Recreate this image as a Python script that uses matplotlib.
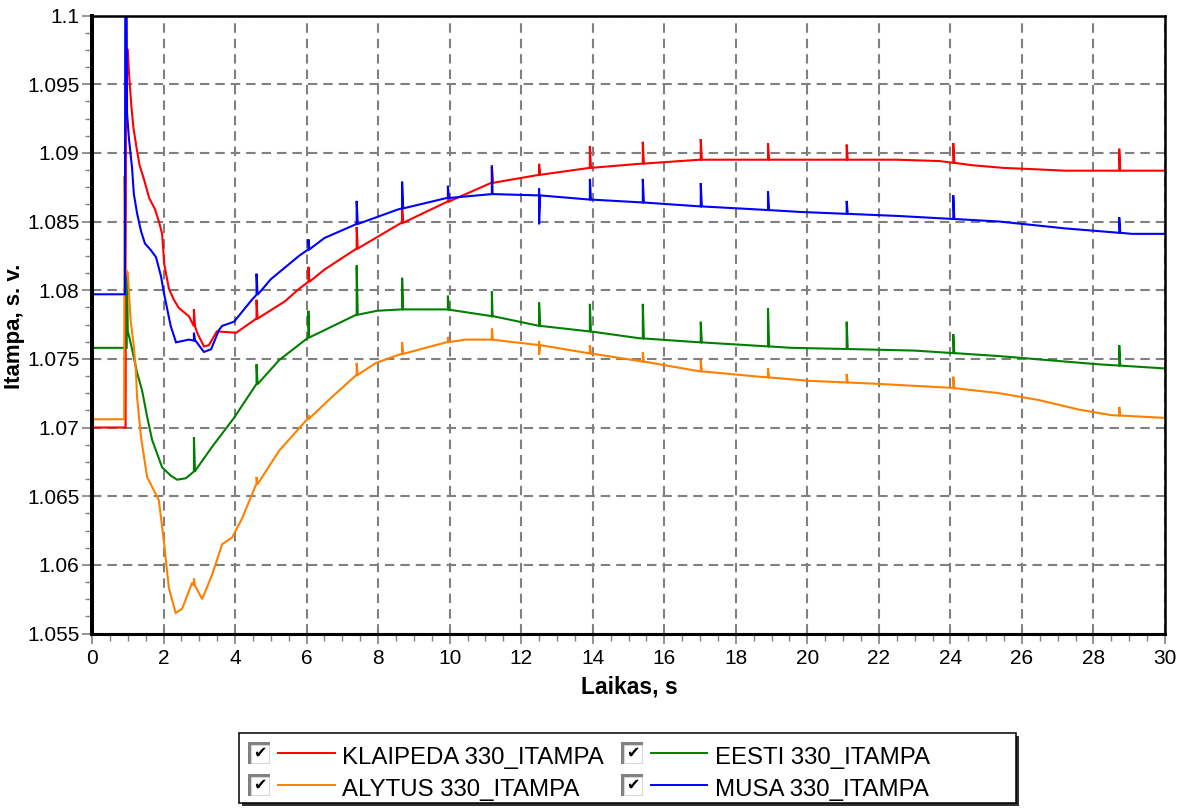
import numpy as np
import matplotlib
matplotlib.use('Agg')
import matplotlib.pyplot as plt
from matplotlib.patches import Rectangle
from matplotlib.lines import Line2D
from matplotlib.ticker import MultipleLocator, FuncFormatter

plt.rcParams['font.family'] = ['Liberation Sans', 'DejaVu Sans']
plt.rcParams['lines.scale_dashes'] = False

# ---------------- data ----------------
series_names = ["KLAIPEDA 330_ITAMPA", "EESTI 330_ITAMPA",
                "ALYTUS 330_ITAMPA", "MUSA 330_ITAMPA"]

red_t = [0, 0.94, 0.95, 1.0, 1.04, 1.1, 1.16, 1.25, 1.33, 1.45, 1.6, 1.76, 1.87, 1.96,
         2.02, 2.15, 2.29, 2.43, 2.71, 2.94, 3.13, 3.27, 3.49, 4.03, 4.58, 5.4, 5.79,
         6.5, 7.38, 8.58, 9.9, 11.15, 12.5, 13.9, 15.3, 17.0, 22.5, 23.7, 24.6, 25.5,
         26.4, 27.2, 30]
red_v = [1.0700, 1.0700, 1.0975, 1.0975, 1.0956, 1.0934, 1.0918, 1.0903, 1.0891, 1.0881,
         1.0867, 1.0859, 1.0850, 1.0841, 1.0819, 1.0801, 1.0793, 1.0787, 1.0781, 1.0769,
         1.0759, 1.0760, 1.0770, 1.0769, 1.0779, 1.0792, 1.0801, 1.0815, 1.0830, 1.0848,
         1.0864, 1.0878, 1.0884, 1.0889, 1.0892, 1.0895, 1.0895, 1.0894, 1.0891, 1.0889,
         1.0888, 1.0887, 1.0887]

green_t = [0, 0.97, 0.98, 1.0, 1.05, 1.12, 1.26, 1.4, 1.54, 1.68, 1.96, 2.2, 2.38, 2.62,
           2.9, 3.36, 3.97, 4.58, 5.23, 6.07, 7.38, 7.97, 8.67, 9.9, 11.2, 12.5, 13.9,
           15.3, 17.0, 19.57, 21.4, 23.0, 25.36, 26.75, 28.15, 30]
green_v = [1.0758, 1.0758, 1.0810, 1.0770, 1.0765, 1.0757, 1.0740, 1.0727, 1.0708, 1.0691,
           1.0671, 1.0665, 1.0662, 1.0663, 1.0669, 1.0686, 1.0707, 1.0731, 1.0749, 1.0766,
           1.0782, 1.0785, 1.0786, 1.0786, 1.0781, 1.0774, 1.0770, 1.0765, 1.0762, 1.0758,
           1.0757, 1.0756, 1.0752, 1.0749, 1.0746, 1.0743]

orange_t = [0, 0.9, 0.91, 0.95, 1.0, 1.08, 1.17, 1.23, 1.26, 1.37, 1.54, 1.87, 2.01, 2.15,
            2.34, 2.52, 2.8, 3.08, 3.36, 3.64, 3.92, 4.2, 4.58, 5.23, 5.98, 6.7, 7.38,
            7.94, 8.58, 9.9, 10.45, 11.15, 12.5, 13.9, 15.4, 16.97, 18.65, 20.04, 21.8,
            23.96, 25.36, 26.47, 27.6, 28.5, 30]
orange_v = [1.0706, 1.0706, 1.0883, 1.0815, 1.0813, 1.0778, 1.0759, 1.0740, 1.0722, 1.0693,
            1.0664, 1.0647, 1.0617, 1.0583, 1.0565, 1.0568, 1.0587, 1.0575, 1.0593, 1.0615,
            1.0620, 1.0634, 1.0658, 1.0683, 1.0705, 1.0722, 1.0738, 1.0747, 1.0753, 1.0762,
            1.0764, 1.0764, 1.0760, 1.0754, 1.0748, 1.0741, 1.0737, 1.0734, 1.0732, 1.0729,
            1.0725, 1.0720, 1.0713, 1.0709, 1.0707]

blue_t = [0, 0.92, 0.93, 0.97, 0.98, 1.03, 1.12, 1.17, 1.26, 1.37, 1.48, 1.65, 1.79, 1.88,
          1.93, 2.01, 2.2, 2.35, 2.71, 2.9, 3.13, 3.33, 3.55, 3.64, 3.97, 4.47, 5.0, 5.79,
          6.5, 7.38, 8.58, 9.9, 11.2, 12.5, 13.9, 15.3, 17.0, 18.45, 19.77, 22.56, 25.36,
          27.2, 29.08, 30]
blue_v = [1.0797, 1.0797, 1.1000, 1.1000, 1.0929, 1.0911, 1.0889, 1.0870, 1.0856, 1.0843,
          1.0834, 1.0829, 1.0824, 1.0815, 1.0810, 1.0798, 1.0774, 1.0762, 1.0764, 1.0763,
          1.0755, 1.0757, 1.0771, 1.0774, 1.0777, 1.0793, 1.0808, 1.0825, 1.0838, 1.0848,
          1.0859, 1.0867, 1.0870, 1.0869, 1.0866, 1.0864, 1.0861, 1.0859, 1.0857, 1.0854,
          1.0850, 1.0845, 1.0841, 1.0841]

# switching transients (spikes)
spike_t = [2.85, 4.6, 6.05, 7.4, 8.67, 9.95, 11.18, 12.5, 13.92, 15.4, 17.02, 18.9,
           21.1, 24.08, 28.72]
red_peak = [1.0786, 1.0793, 1.0817, 1.0846, 1.0861, 1.0866, 1.0891, 1.0892, 1.0905,
            1.0908, 1.0910, 1.0907, 1.0906, 1.0907, 1.0903]
green_peak = [1.0693, 1.0746, 1.0785, 1.0818, 1.0809, 1.0796, 1.0799, 1.0791, 1.0790,
              1.0790, 1.0777, 1.0787, 1.0777, 1.0768, 1.0760]
orange_peak = [1.0590, 1.0664, 1.0709, 1.0747, 1.0762, 1.0766, 1.0772, 1.0763, 1.0760,
               1.0755, 1.0749, 1.0743, 1.0739, 1.0737, 1.0715]
blue_peak = [1.0769, 1.0812, 1.0837, 1.0865, 1.0879, 1.0876, 1.0890, 1.0874, 1.0881,
             1.0881, 1.0878, 1.0872, 1.0865, 1.0869, 1.0853]
blue_dip = [None, None, None, None, None, None, None, 1.0848, None, None, None, None,
            None, None, None]
orange_dip = [None, None, None, None, None, None, None, 1.0753, None, None, None, None,
              None, None, None]
green_dip = [None] * 15
red_dip = [None] * 15

colors = ["#ff0000", "#008000", "#ff8000", "#0000ff"]

# ---------------- helpers ----------------
def build(t, v, peaks, dips):
    t = np.asarray(t, float)
    v = np.asarray(v, float)
    pts = list(zip(t, v))
    for ts, pk, dp in zip(spike_t, peaks, dips):
        b = float(np.interp(ts, t, v))
        seq = [(ts, b), (ts + 1e-4, pk)]
        if dp is not None:
            seq.append((ts + 2e-4, dp))
        seq.append((ts + 0.03, b))
        pts += seq
    pts.sort(key=lambda p: p[0])
    arr = np.array(pts)
    return arr[:, 0], arr[:, 1]


W, H = 1191, 808
fig = plt.figure(figsize=(W / 100, H / 100), dpi=100)
fig.patch.set_facecolor('white')

L, R, T, B = 92, 1165, 15.5, 633.5
ax = fig.add_axes([L / W, 1 - B / H, (R - L) / W, (B - T) / H])

data = [(red_t, red_v, red_peak, red_dip),
        (green_t, green_v, green_peak, green_dip),
        (orange_t, orange_v, orange_peak, orange_dip),
        (blue_t, blue_v, blue_peak, blue_dip)]
for i in range(4):
    tt, vv = build(*data[i])
    ax.plot(tt, vv, color=colors[i], lw=1.5, zorder=3, solid_joinstyle='miter')

ax.set_xlim(0, 30)
ax.set_ylim(1.055, 1.1)
ax.xaxis.set_major_locator(MultipleLocator(2))
ax.xaxis.set_minor_locator(MultipleLocator(0.5))
ax.yaxis.set_major_locator(MultipleLocator(0.005))
ax.yaxis.set_minor_locator(MultipleLocator(0.00125))
ax.yaxis.set_major_formatter(FuncFormatter(lambda v, p: f"{v:.3f}".rstrip('0').rstrip('.')))
ax.xaxis.set_major_formatter(FuncFormatter(lambda v, p: f"{v:.0f}"))

ax.grid(True, which='major', color='#808080', linestyle=(0, (6.8, 4.3)), linewidth=1.5, zorder=1)
ax.set_axisbelow(True)

ax.tick_params(axis='x', which='major', direction='inout', length=14, width=1.2,
               color='#808080', labelsize=15, pad=4)
ax.tick_params(axis='x', which='minor', direction='out', length=5, width=1.0, color='#808080')
ax.tick_params(axis='y', which='major', direction='out', length=7, width=1.2,
               color='#808080', labelsize=15, pad=2)
ax.tick_params(axis='y', which='minor', direction='out', length=5, width=1.0, color='#808080')

ax.spines['left'].set_linewidth(2.9)
ax.spines['bottom'].set_linewidth(2.2)
ax.spines['top'].set_linewidth(1.8)
ax.spines['right'].set_linewidth(1.8)
for s in ax.spines.values():
    s.set_color('black')
    s.set_zorder(5)


def px(x, y):
    return x / W, 1 - y / H


fig.text(*px(629, 687), "Laikas, s", ha='center', va='center', fontsize=16.5, fontweight='bold')
fig.text(*px(15, 326), "Itampa, s. v.", ha='center', va='center', rotation=90,
         fontsize=16, fontweight='bold')

# ---------------- legend ----------------
def frect(x0, y0, x1, y1, **kw):
    r = Rectangle(px(x0, y1), (x1 - x0) / W, (y1 - y0) / H, transform=fig.transFigure, **kw)
    fig.add_artist(r)
    return r

frect(242, 736, 1019, 806, facecolor='#303030', edgecolor='none', zorder=10)
frect(239, 733, 1016, 803, facecolor='white', edgecolor='black', linewidth=1.1, zorder=11)

rows_y = [753, 785]
cols = [(248, 278, 335, 342), (621, 651, 707, 715)]
legend_pos = [(0, 0), (1, 0), (0, 1), (1, 1)]  # (col,row) for each series
for i, (c, r) in enumerate(legend_pos):
    cbx, lx0, lx1, tx = cols[c]
    yc = rows_y[r]
    # checkbox
    frect(cbx, yc - 11, cbx + 21.5, yc + 11, facecolor='#808080', edgecolor='none', zorder=12)
    frect(cbx + 3, yc - 8, cbx + 20.5, yc + 10, facecolor='white', edgecolor='#d8d8d8',
          linewidth=0.8, zorder=13)
    fig.text(*px(cbx + 11.5, yc + 0.5), "\u2714", ha='center', va='center', fontsize=11.5,
             family=['DejaVu Sans'], color='black', zorder=14)
    # line sample
    x0f, yf = px(lx0, yc)
    x1f, _ = px(lx1, yc)
    fig.add_artist(Line2D([x0f, x1f], [yf, yf], transform=fig.transFigure,
                          color=colors[i], lw=1.4, zorder=12))
    fig.text(*px(tx, yc + 11), series_names[i], ha='left', va='baseline',
             fontsize=17.3, zorder=12)

fig.savefig('out.png', dpi=100, facecolor='white')
